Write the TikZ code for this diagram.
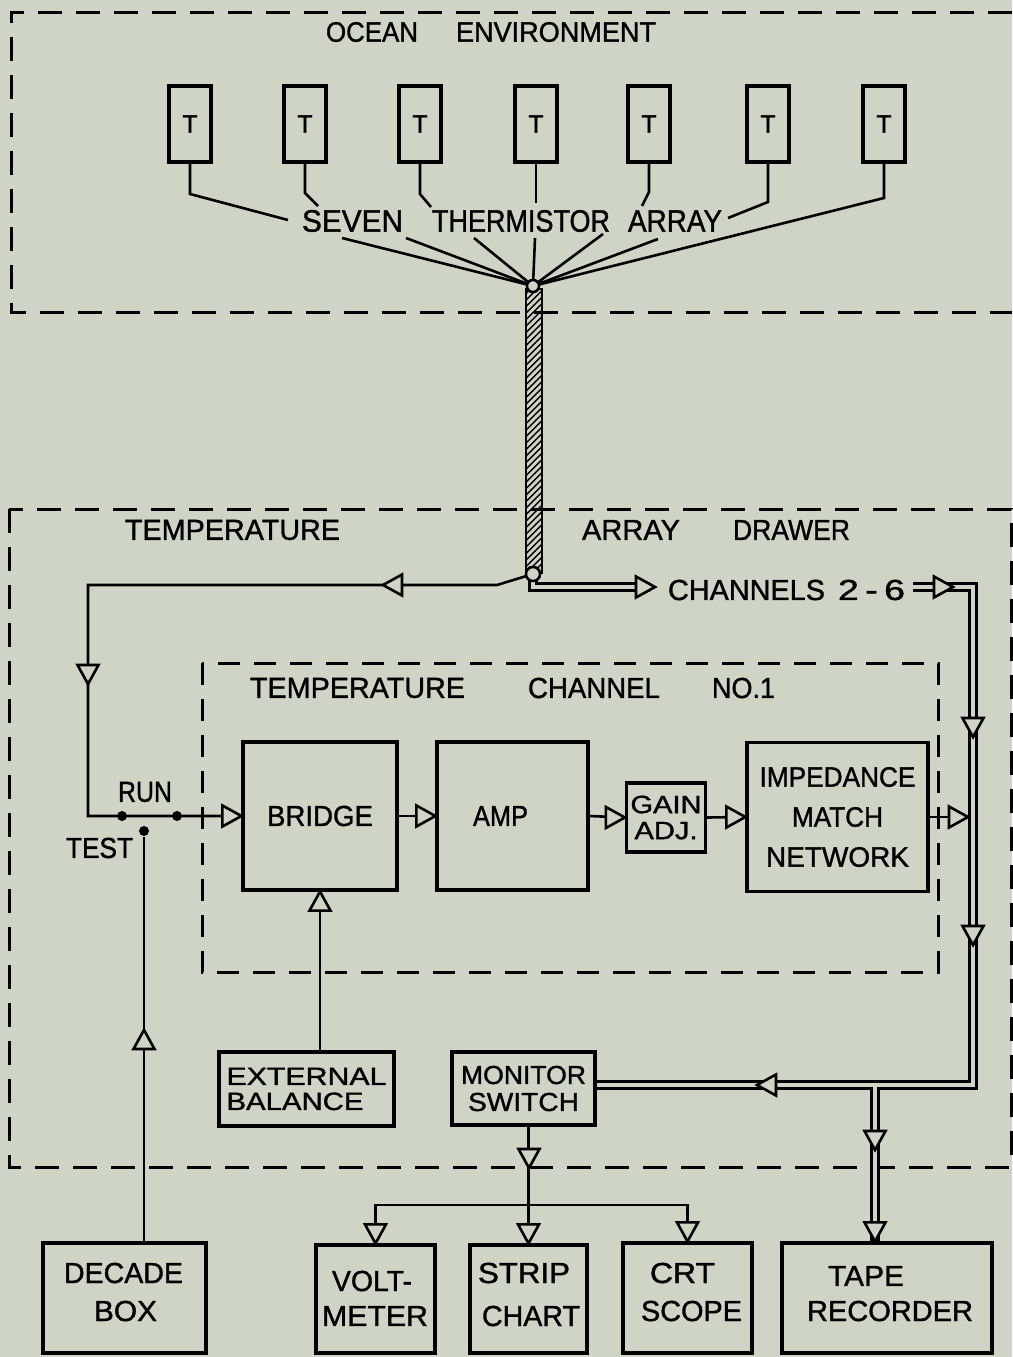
\documentclass[tikz,border=0pt]{standalone}
\usepackage{fontspec}
\setmainfont{Liberation Sans}[BoldFont={Liberation Sans}, BoldFeatures={FakeBold=1.2}]
\usepackage{graphicx}
\definecolor{bg}{RGB}{207,212,199}
\newcommand\fw[2]{\resizebox{#1pt}{\height}{#2}}
\begin{document}
\begin{tikzpicture}[x=1pt,y=-1pt, line width=2.8pt, line join=miter,
  lbl/.style={inner sep=0pt, font=\fontsize{29}{32}\selectfont\bfseries},
  box/.style={draw, line width=3.2pt, inner sep=0pt, align=center},
  wire/.style={line width=2.6pt},
  dashbox/.style={line width=3pt, dash pattern=on 24pt off 14pt},
  dot/.style={circle, fill=black, inner sep=0pt, minimum size=10pt},
  dblout/.style={line width=9.6pt, draw=black},
  dblin/.style={line width=4.6pt, draw=bg},
  tri/.pic={\draw[fill=bg, line width=2.6pt] (0,0) -- (-19,10.5) -- (-19,-10.5) -- cycle;}]
\fill[bg] (0,0) rectangle (1012,1357);
\useasboundingbox (0,0) rectangle (1012,1357);

% dashed enclosures
\draw[dashbox] (1012,12) -- (11,12) -- (11,312) -- (1012,312);
\draw[dashbox] (9,509) rectangle (1011,1167);
\draw[dashbox, dash pattern=on 22pt off 14pt] (202,663) rectangle (938,972);

% ocean labels
\node[lbl, font=\fontsize{28}{30}\selectfont\bfseries] (ocean) at (372,32) {\fw{92}{OCEAN}};
\node[lbl, font=\fontsize{28}{30}\selectfont\bfseries] (env) at (556,32) {\fw{200}{ENVIRONMENT}};

% thermistors
\foreach \i/\x in {1/190,2/305,3/420,4/536,5/649,6/768,7/884}{
  \node[box, minimum width=42, minimum height=76] (t\i) at (\x,124) {\fontsize{25}{28}\selectfont\bfseries T};
}
\node[lbl, font=\fontsize{31}{32}\selectfont\bfseries] (seven) at (352.5,221) {\fw{101}{SEVEN}};
\node[lbl, font=\fontsize{31}{32}\selectfont\bfseries] (therm) at (521,221) {\fw{178}{THERMISTOR}};
\node[lbl, font=\fontsize{31}{32}\selectfont\bfseries] (arr1) at (675,221) {\fw{94}{ARRAY}};

% cable
\begin{scope}
  \clip (526,289) rectangle (542,573);
  \foreach \i in {0,...,46} \draw[line width=1.4pt] (524,289+\i*6.5) -- (544,269+\i*6.5);
\end{scope}
\node[draw, line width=2.8pt, minimum width=16, minimum height=284, inner sep=0pt] (cable) at (534,431) {};
\node[circle, draw, fill=bg, line width=2.4pt, minimum size=12, inner sep=0pt] (jtop) at (533,286) {};

% fan wires
\draw[wire] (t1.south) -- (190,194) -- (288,220);
\draw[wire] (t2.south) -- (305,193) -- (318,206);
\draw[wire] (t3.south) -- (420,194) -- (431,207);
\draw[wire] (t4.south) -- (536,203);
\draw[wire] (t5.south) -- (649,192) -- (642,206);
\draw[wire] (t6.south) -- (768,202) -- (728,218);
\draw[wire] (t7.south) -- (884,198) -- (jtop);
\foreach \p in {(342,238),(406,238),(474,238),(535,238),(603,234),(658,239)}
  \draw[wire] \p -- (jtop);
\node[circle, draw, fill=bg, line width=2.4pt, minimum size=12, inner sep=0pt] at (jtop) {};

% drawer labels
\node[lbl] (temp1) at (232.5,530) {\fw{215}{TEMPERATURE}};
\node[lbl] (arr2) at (631,530) {\fw{98}{ARRAY}};
\node[lbl] (drawer) at (791.5,530) {\fw{117}{DRAWER}};
\node[lbl] (chans) at (746.5,590) {\fw{157}{CHANNELS}};
\node[lbl] (two6) at (871.5,590) {\fw{67}{2\hspace{5pt}-\hspace{5pt}6}};
\node[lbl] (temp2) at (357.5,688) {\fw{215}{TEMPERATURE}};
\node[lbl] (chan) at (594,688) {\fw{132}{CHANNEL}};
\node[lbl] (no1) at (743.5,688) {\fw{63}{NO.1}};

% channel boxes
\node[box, minimum width=154, minimum height=148] (bridge) at (320,816) {\fontsize{29}{32}\selectfont\bfseries\fw{106}{BRIDGE}};
\node[box, minimum width=151, minimum height=148] (amp) at (512.5,816) {\fontsize{29}{32}\selectfont\bfseries\fw{55}{AMP}\hspace*{24pt}};
\node[box, minimum width=79, minimum height=69, font=\fontsize{25}{26}\selectfont\bfseries] (gain) at (666,817.5) {\fw{71}{GAIN}\\\fw{63}{ADJ.}};
\node[box, minimum width=181, minimum height=149, font=\fontsize{28}{40}\selectfont\bfseries] (imp) at (837.5,817) {\fw{156}{IMPEDANCE}\\\fw{91}{MATCH}\\\fw{143}{NETWORK}};

% run/test switch
\node[lbl] (run) at (145,792) {\fw{54}{RUN}};
\node[lbl] (test) at (99.5,848) {\fw{67}{TEST}};
\node[dot] (prun) at (122,816) {};
\node[dot] (pcom) at (177,816) {};
\node[dot] (ptest) at (144,831) {};

% lower boxes inside drawer
\node[box, minimum width=175, minimum height=74, align=left, font=\fontsize{25}{25}\selectfont\bfseries] (ext) at (306.5,1089) {\fw{160}{EXTERNAL}\\\fw{137}{BALANCE}};
\node[box, minimum width=143, minimum height=73, font=\fontsize{26}{27}\selectfont\bfseries] (mon) at (523.5,1088.5) {\fw{125}{MONITOR}\\\fw{111}{SWITCH}};

% bottom boxes
\node[box, minimum width=163, minimum height=110] (decade) at (124.5,1298) {};
\node[box, minimum width=119, minimum height=108] (volt) at (375.5,1299) {};
\node[box, minimum width=117, minimum height=108] (strip) at (528.5,1299) {};
\node[box, minimum width=129, minimum height=110] (crt) at (687.5,1298) {};
\node[box, minimum width=210, minimum height=110] (tape) at (887,1298) {};
\node[lbl] (decade1) at (123.5,1273) {\fw{119}{DECADE}};
\node[lbl] (decade2) at (125.5,1311) {\fw{63}{BOX}};
\node[lbl] (volt1) at (372,1281) {\fw{80}{VOLT-}};
\node[lbl] (volt2) at (375,1316) {\fw{106}{METER}};
\node[lbl] (strip1) at (524,1273) {\fw{92}{STRIP}};
\node[lbl] (strip2) at (531,1316) {\fw{98}{CHART}};
\node[lbl] (crt1) at (682.5,1273) {\fw{65}{CRT}};
\node[lbl] (crt2) at (691.5,1311) {\fw{101}{SCOPE}};
\node[lbl] (tape1) at (866,1276) {\fw{76}{TAPE}};
\node[lbl] (tape2) at (890,1311) {\fw{166}{RECORDER}};

% junction at drawer
\coordinate (mrow) at (0,1085);
\coordinate (tb) at (875,1085);
\coordinate (bus) at (0,1205);
\node[circle, draw, fill=bg, line width=2.4pt, minimum size=14, inner sep=0pt] (jbot) at (533,574) {};

% double lines (outer then inner)
\draw[dblout] (533,580) -- (533,587) -- (650,587);
\draw[dblout] (913,587) -- (973,587) -- (973,1085) -- (mon.east |- mrow);
\draw[dblout] (tb) -- (tb |- tape.north);
\draw[dblin] (533,580) -- (533,587) -- (650,587);
\draw[dblin] (913,587) -- (973,587) -- (973,1085) -- (mon.east |- mrow);
\draw[dblin] (tb) -- (tb |- tape.north);
\node[circle, draw, fill=bg, line width=2.4pt, minimum size=14, inner sep=0pt] at (jbot) {};

% single connectors
\draw[wire] (jbot) -- (497,585) -- (88,585) -- (88,816) -- (bridge.west);
\draw[wire] (ptest) -- (ptest |- decade.north);
\draw[wire] (bridge.east) -- (amp.west);
\draw[wire] (amp.east) -- (gain.west);
\draw[wire] (gain.east) -- (imp.west);
\draw[wire] (imp.east) -- (968,817);
\draw[wire] (ext.north -| bridge.south) -- (bridge.south);
\draw[wire] (mon.south -| strip.north) -- (strip.north);
\draw[wire] (volt.north) -- (volt.north |- bus) -- (crt.north |- bus) -- (crt.north);

% arrowheads
\pic at (383,585) [rotate=180] {tri};
\pic at (88,684) [rotate=-90] {tri};
\pic at (655,587) {tri};
\pic at (953,587) {tri};
\pic at (973,737) [rotate=-90] {tri};
\pic at (973,945) [rotate=-90] {tri};
\pic at (968,817) {tri};
\pic at (bridge.west) {tri};
\pic at (amp.west) {tri};
\pic at (gain.west) {tri};
\pic at (imp.west) {tri};
\pic at (bridge.south) [rotate=90] {tri};
\pic at (144,1030) [rotate=90] {tri};
\pic at (757,1085) [rotate=180] {tri};
\pic at (875,1150) [rotate=-90] {tri};
\pic at (tb |- tape.north) [rotate=-90] {tri};
\pic at (529,1168) [rotate=-90] {tri};
\pic at (volt.north) [rotate=-90] {tri};
\pic at (strip.north) [rotate=-90] {tri};
\pic at (crt.north) [rotate=-90] {tri};
\end{tikzpicture}
\end{document}
